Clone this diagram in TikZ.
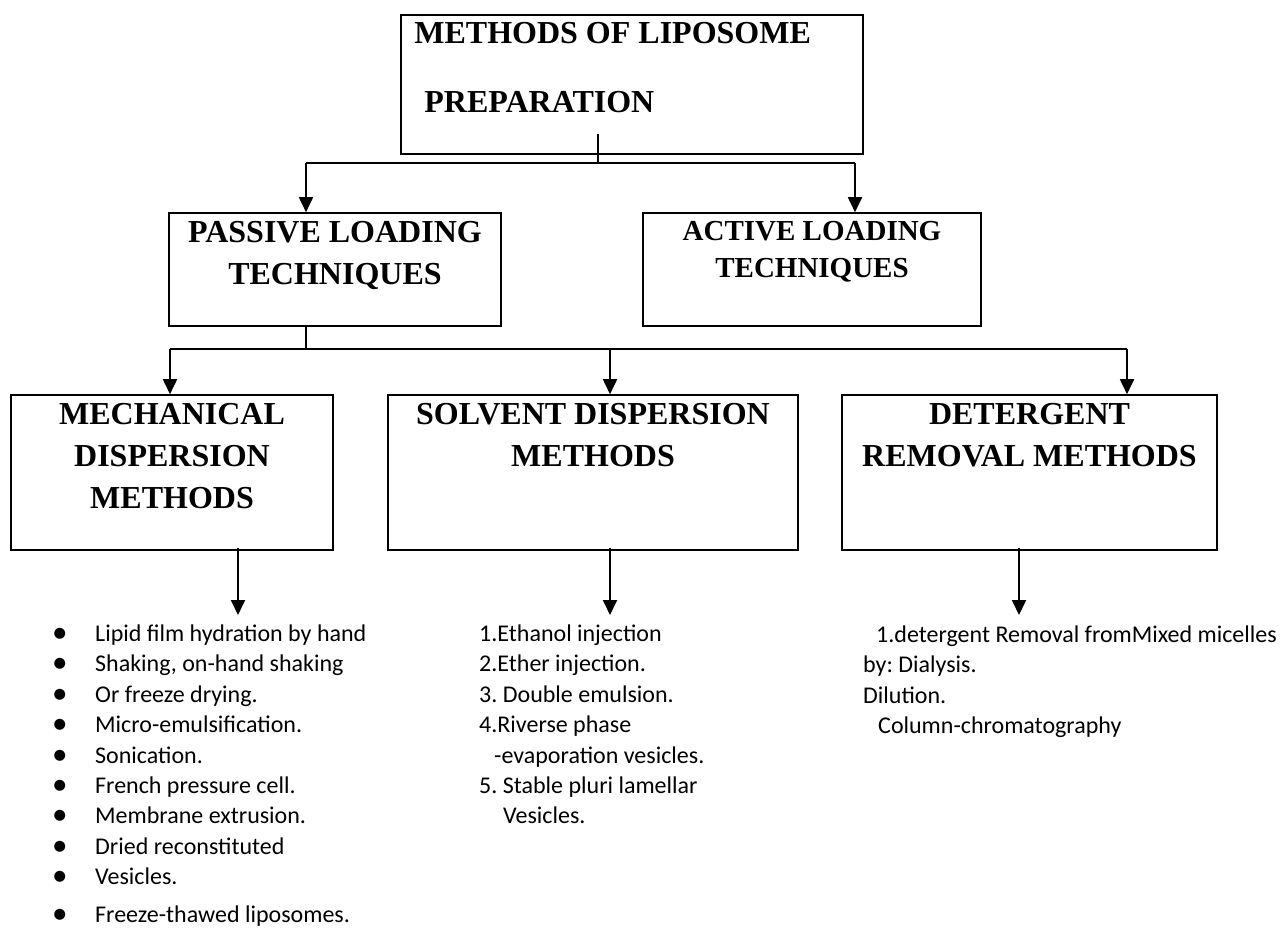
\documentclass[tikz,border=0pt]{standalone}
\usepackage{fontspec}
\setmainfont{Liberation Serif}
\newfontfamily\listfont{Carlito}
\usetikzlibrary{positioning,arrows.meta}

\tikzset{
	box/.style={draw, line width=1.6pt, inner sep=0pt},
	head/.style={font=\bfseries\fontsize{32}{42}\selectfont, align=center, inner sep=0pt},
	link/.style={line width=1.2pt},
	arr/.style={line width=1.8pt, -{Triangle[width=14pt,length=15pt]}},
	items/.style={font=\listfont\fontsize{24}{30.4}\selectfont\frenchspacing, align=left, inner sep=0pt, anchor=north west}
}
\newcommand{\bul}{\makebox[43pt][l]{\raisebox{-1pt}{\fontsize{31}{30}\selectfont\textbullet}}}

\begin{document}
\begin{tikzpicture}[x=1pt,y=-1pt]
		\fill[white] (0,0) rectangle (1280,930);

		% boxes
		\node[box, minimum width=462pt, minimum height=139pt] (top) at (632,84.5) {};
		\node[box, minimum width=332pt, minimum height=113pt] (passive) at (335,269.5) {};
		\node[box, minimum width=338pt, minimum height=113pt] (active) at (812,269.5) {};
		\node[box, minimum width=322pt, minimum height=155pt] (mech) at (172,472.5) {};
		\node[box, minimum width=410pt, minimum height=155pt] (solv) at (593,472.5) {};
		\node[box, minimum width=375pt, minimum height=155pt] (det) at (1029.5,472.5) {};

		% titles
		\node[head, align=left, below right=8pt and 14pt of top.north west] (topt)
			{METHODS OF LIPOSOME\\[27pt]\hspace*{10pt}PREPARATION};
		\node[head, below=9pt of passive.north] (passivet) {PASSIVE LOADING\\TECHNIQUES};
		\node[head, font=\bfseries\fontsize{29}{37}\selectfont, below=9pt of active.north] (activet)
			{ACTIVE LOADING\\TECHNIQUES};
		\node[head, below=9pt of mech.north] (mecht) {MECHANICAL\\DISPERSION\\METHODS};
		\node[head, below=9pt of solv.north] (solvt) {SOLVENT DISPERSION\\METHODS};
		\node[head, below=9pt of det.north] (dett) {DETERGENT\\REMOVAL METHODS};

		% first split
		\coordinate (t1) at (598,163);
		\coordinate (pa) at (306,163);
		\coordinate (aa) at (855,163);
		\draw[link, shorten <=-21pt] (top.south -| t1) -- (t1);
		\draw[link] (pa) -- (aa);
		\draw[arr] (pa) -- (pa |- passive.north);
		\draw[arr] (aa) -- (aa |- active.north);

		% second split
		\coordinate (p1) at (306,349);
		\coordinate (m1) at (170,349);
		\coordinate (s1) at (610,349);
		\coordinate (d1) at (1127,349);
		\draw[link] (passive.south -| p1) -- (p1);
		\draw[link] (m1) -- (d1);
		\foreach \c/\n in {m1/mech, s1/solv, d1/det}
			\draw[arr] (\c) -- (\c |- \n.north);

		% down to the lists
		\coordinate (ml) at (238,615);
		\coordinate (sl) at (610,615);
		\coordinate (dl) at (1019,615);
		\foreach \c/\n in {ml/mech, sl/solv, dl/det}
			\draw[arr, shorten <=-3pt] (\n.south -| \c) -- (\c);

		\node[items] (mechl) at (52,624.7) {%
			\bul Lipid film hydration by hand\\
			\bul Shaking, on-hand shaking\\
			\bul Or freeze drying.\\
			\bul Micro-emulsification.\\
			\bul Sonication.\\
			\bul French pressure cell.\\
			\bul Membrane extrusion.\\
			\bul Dried reconstituted\\
			\bul Vesicles.\\[7pt]
			\bul Freeze-thawed liposomes.};

		\node[items] (solvl) at (479,624.7) {%
			1.Ethanol injection\\
			2.Ether injection.\\
			3. Double emulsion.\\
			4.Riverse phase\\
			\hspace*{15pt}-evaporation vesicles.\\
			5. Stable pluri lamellar\\
			\hspace*{24pt}Vesicles.};

		\node[items] (detl) at (863,625.7) {%
			\hspace*{13pt}1.detergent Removal fromMixed micelles\\
			by: Dialysis.\\
			Dilution.\\
			\hspace*{15pt}Column-chromatography};
	\end{tikzpicture}
\end{document}
